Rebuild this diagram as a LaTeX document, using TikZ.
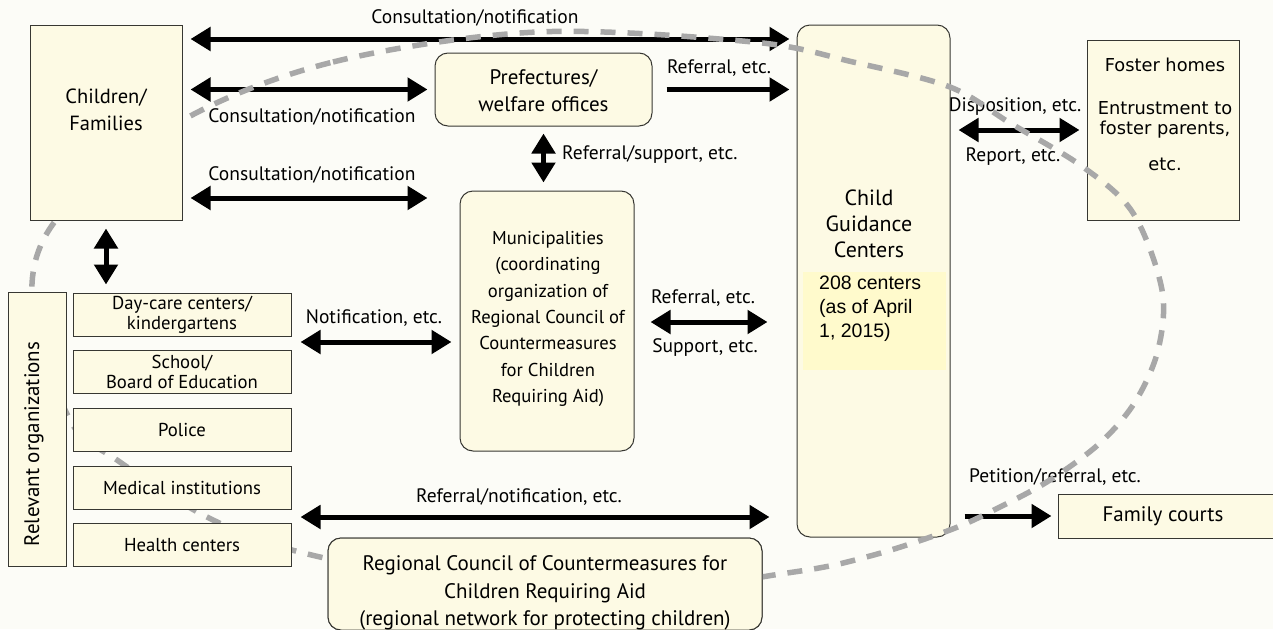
\documentclass[tikz,border=0pt]{standalone}
\usepackage{fontspec}
\setmainfont{PT Sans}
\newfontfamily\arialfont{Liberation Sans}
\newfontfamily\verdfont{DejaVu Sans}
\usetikzlibrary{arrows.meta}
\definecolor{bgc}{RGB}{252,252,247}
\definecolor{boxc}{RGB}{253,250,228}
\definecolor{bandc}{RGB}{255,250,204}
\definecolor{dashc}{RGB}{168,168,168}
\definecolor{edgec}{RGB}{55,55,50}
\begin{document}
\begin{tikzpicture}[x=1pt,y=-1pt,
  box/.style={draw=edgec, fill=boxc, line width=1pt, inner sep=0pt},
  rbox/.style={box, rounded corners=13pt},
  txt/.style={font=\fontsize{21}{27}\selectfont, inner sep=0pt, align=center},
  lbl/.style={font=\fontsize{19.5}{22}\selectfont, inner sep=0pt},
  dbl/.style={line width=5pt, {Triangle[length=20pt,width=23pt]}-{Triangle[length=20pt,width=23pt]}},
  sgl/.style={line width=5pt, -{Triangle[length=20pt,width=23pt]}},
  ring/.style={dashc, line width=5.5pt, dash pattern=on 15pt off 12pt}]
\fill[bgc] (0,0) rectangle (1273,629);
\useasboundingbox (0,0) rectangle (1273,629);

% --- boxes under the ring
\node[rbox, minimum width=153pt, minimum height=512pt] (cgc) at (873.5,281) {};
\node[fill=bandc, inner sep=0pt, minimum width=143pt, minimum height=98pt] (band) at (874.5,321) {};
\node[txt, font=\fontsize{22}{26}\selectfont] (cgct) at (869,224) {Child\\Guidance\\Centers};
\node[font=\arialfont\fontsize{19.5}{24}\selectfont, align=left, inner sep=0pt, anchor=north west] (bandt) at (819,276) {208 centers\\(as of April\\1, 2015)};
\node[box, minimum width=152pt, minimum height=180pt] (fost) at (1163,130) {};
\node[font=\verdfont\fontsize{17.8}{20}\selectfont, align=center, inner sep=0pt, anchor=north] (fostt) at (1165,58) {Foster homes\\[23pt]Entrustment to\\foster parents,\\[16pt]etc.};
\node[rbox, minimum width=217pt, minimum height=73pt] (pref) at (543.5,89.5) {};
\node[txt] (preft) at (543.5,91) {Prefectures/\\welfare offices};
\node[rbox, minimum width=174pt, minimum height=260pt] (muni) at (547,321) {};
\node[txt, font=\fontsize{18.6}{26.3}\selectfont] (munit) at (548,319) {Municipalities\\(coordinating\\organization of\\Regional Council of\\Countermeasures\\for Children\\Requiring Aid)};
\node[box, minimum width=215pt, minimum height=44pt] (fam) at (1165.5,516) {};
\node[txt] (famt) at (1163,516) {Family courts};

% --- org column (for anchors)
\node[box, minimum width=58pt, minimum height=274pt] (rel) at (37,429.5) {};
\node[box, minimum width=218pt, minimum height=43pt] (day) at (182,314.5) {};
\node[box, minimum width=218pt, minimum height=43pt] (sch) at (182,371.5) {};
\node[box, minimum width=218pt, minimum height=43pt] (pol) at (182,429.5) {};
\node[box, minimum width=218pt, minimum height=43pt] (med) at (182,487.5) {};
\node[box, minimum width=218pt, minimum height=43pt] (hea) at (182,545) {};
\node[box, minimum width=152pt, minimum height=195pt] (chf) at (106,122.5) {};
\node[rbox, minimum width=434pt, minimum height=92pt] (reg) at (545,584) {};

% --- arrows
\draw[dbl, shorten <=8pt, shorten >=7pt] (chf.east |- 0,39) -- (cgc.west |- 0,39);
\node[lbl] (l1) at (475,18) {Consultation/notification};
\draw[dbl, shorten <=8pt, shorten >=7pt] (chf.east |- pref.west) -- (pref.west);
\node[lbl] (l2) at (312,117) {Consultation/notification};
\draw[dbl, shorten <=8pt, shorten >=32pt] (chf.east |- 0,198) -- (muni.west |- 0,198);
\node[lbl] (l3) at (312,175) {Consultation/notification};
\draw[sgl, shorten <=14pt, shorten >=7pt] (pref.east) -- (cgc.west |- pref.east);
\node[lbl] (l4) at (719,68) {Referral, etc.};
\draw[dbl, shorten <=7pt, shorten >=8pt] (pref.south) -- (pref.south |- muni.north);
\node[lbl, anchor=west] (l5) at (562,155) {Referral/support, etc.};
\draw[dbl, shorten <=8pt, shorten >=8pt] (chf.south) -- (chf.south |- day.north);
\draw[dbl, shorten <=9pt, shorten >=8pt] (day.east |- 0,342) -- (muni.west |- 0,342);
\node[lbl] (l6) at (374,318) {Notification, etc.};
\draw[dbl, shorten <=16pt, shorten >=29pt] (muni.east |- 0,322) -- (cgc.west |- 0,322);
\node[lbl] (l7) at (703,298) {Referral, etc.};
\node[lbl] (l8) at (705,348) {Support, etc.};
\draw[dbl, shorten <=9pt, shorten >=27pt] (med.east |- 0,517) -- (cgc.west |- 0,517);
\node[lbl] (l9) at (519,497) {Referral/notification, etc.};
\draw[dbl, shorten <=8pt, shorten >=7pt] (cgc.east |- 0,130) -- (fost.west |- 0,130);
\node[lbl] (l10) at (1015,107) {Disposition, etc.};
\node[lbl] (l11) at (1013,157) {Report, etc.};
\draw[sgl, shorten <=14pt, shorten >=6pt] (cgc.east |- fam.west) -- (fam.west);
\node[lbl] (l12) at (1055,477) {Petition/referral, etc.};

% --- dashed ring
\draw[ring] plot[smooth cycle, tension=0.55] coordinates {(183,120) (333,62) (537,32) (753,42) (853,62) (950,87) (1010,123) (1083,167) (1133,213) (1162,290) (1158,350) (1135,402) (1100,443) (1050,480) (1000,507) (950,530) (870,556) (787,573) (560,600) (320,557) (213,520) (117,460) (70,420) (32,300) (60,215)};

% --- boxes over the ring
\node[box, minimum width=152pt, minimum height=195pt] at (chf) {};
\node[txt, font=\fontsize{20.5}{27}\selectfont] (chft) at (106,110) {Children/\\Families};
\node[box, minimum width=58pt, minimum height=274pt] at (rel) {};
\node[txt, rotate=90] (relt) at (34,444) {Relevant organizations};
\foreach \n/\t in {day/{Day-care centers/\\kindergartens}, sch/{School/\\Board of Education}, pol/{Police}, med/{Medical institutions}, hea/{Health centers}}{
  \node[box, minimum width=218pt, minimum height=43pt] at (\n) {};
  \node[txt, font=\fontsize{18.7}{20}\selectfont] (\n t) at (\n) {\t};
}
\node[rbox, minimum width=434pt, minimum height=92pt] at (reg) {};
\node[txt, font=\fontsize{21}{27.5}\selectfont] (regt) at (545,593) {Regional Council of Countermeasures for\\Children Requiring Aid\\(regional network for protecting children)};
\end{tikzpicture}
\end{document}
